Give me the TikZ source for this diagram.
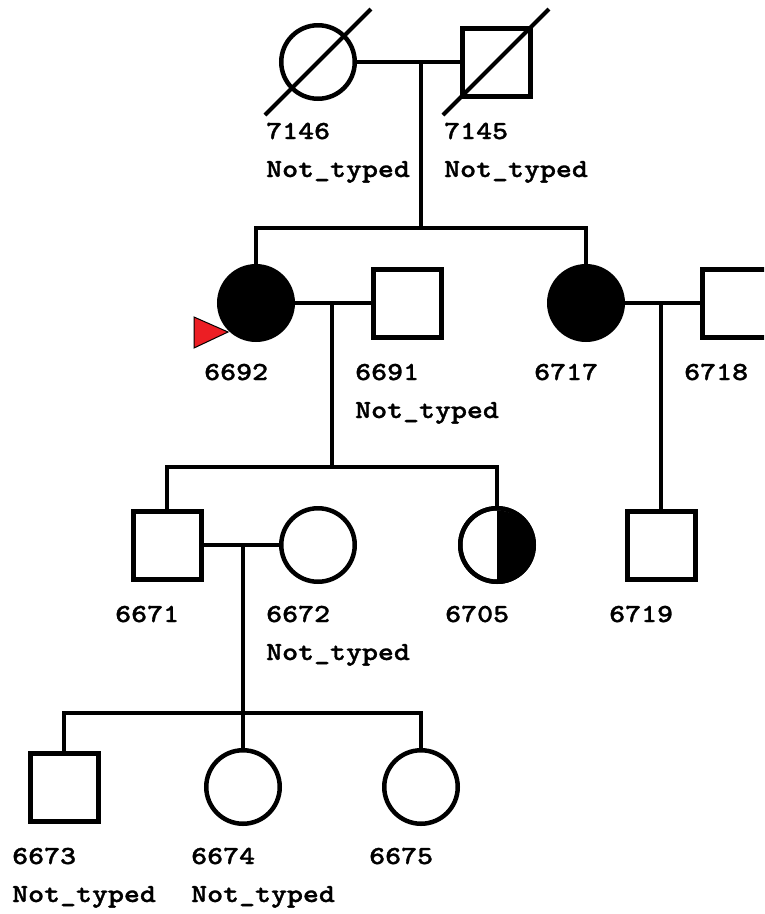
\documentclass[tikz,border=0pt]{standalone}
\usepackage{fontspec}
\newfontfamily\pedfont{lmmonolt10-bold.otf}[FakeStretch=1.17, FakeBold=1.2]
\usetikzlibrary{calc}
\definecolor{proband}{RGB}{236,30,36}

\tikzset{
  person/.style={draw, inner sep=0pt},
  male/.style={person, rectangle, line width=5pt, minimum size=68pt},
  female/.style={person, circle, line width=4.5pt, minimum size=73.5pt},
  affected/.style={fill=black},
  pid/.style={anchor=base west, inner sep=0pt,
              font=\fontsize{26}{30}\selectfont\pedfont},
  link/.style={line width=4pt},
}

\begin{document}
\begin{tikzpicture}[x=1pt, y=-1pt]
  \useasboundingbox (0,0) rectangle (764,914);
  \clip (0,0) rectangle (764,914);

  % generation I
  \node[female] (p7146) at (318,62) {};
  \node[male]   (p7145) at (496,62) {};
  \draw[link] ($(p7146.center)+(-53,53)$) -- ($(p7146.center)+(53,-53)$);
  \draw[link] ($(p7145.center)+(-53,53)$) -- ($(p7145.center)+(53,-53)$);

  % generation II
  \filldraw[fill=proband, draw=black, line width=1pt]
    (194,317) -- (194,348) -- (228,332) -- cycle;
  \node[female, affected] (p6692) at (256,303) {};
  \node[male]             (p6691) at (407,303) {};
  \node[female, affected] (p6717) at (586,303) {};
  \node[male]             (p6718) at (736,303) {};

  % generation III
  \node[male]   (p6671) at (167,545) {};
  \node[female] (p6672) at (318,545) {};
  \node[female] (p6705) at (497,545) {};
  \fill (p6705.south) arc[start angle=-90, end angle=90, radius=36.75pt] -- cycle;
  \node[female] at (p6705) {};
  \node[male]   (p6719) at (661,545) {};

  % generation IV
  \node[male]   (p6673) at (64,787) {};
  \node[female] (p6674) at (243,787) {};
  \node[female] (p6675) at (421,787) {};

  % marriages and sibships
  \coordinate (m1) at (421,62);  \coordinate (s1) at (421,228);
  \coordinate (m2) at (332,303); \coordinate (s2) at (332,467);
  \coordinate (m3) at (661,303);
  \coordinate (m4) at (243,545); \coordinate (s4) at (243,713);

  \draw[link] (p7146.east) -- (p7145.west);
  \draw[link] (m1) -- (s1);
  \draw[link] (p6692.north) |- (s1) -| (p6717.north);

  \draw[link] (p6692.east) -- (p6691.west);
  \draw[link] (m2) -- (s2);
  \draw[link] (p6671.north) |- (s2) -| (p6705.north);

  \draw[link] (p6717.east) -- (p6718.west);
  \draw[link] (m3) -- (p6719.north);

  \draw[link] (p6671.east) -- (p6672.west);
  \draw[link] (m4) -- (s4);
  \draw[link] (p6673.north) |- (s4) -| (p6675.north);
  \draw[link] (s4) -- (p6674.north);

  % labels
  \foreach \p in {7146,7145,6692,6691,6717,6718,6671,6672,6705,6719,6673,6674,6675}
    \node[pid] (l\p) at ($(p\p.center)+(-52,77)$) {\p};
  \foreach \p in {7146,7145,6691,6672,6673,6674}
    \node[pid] (n\p) at ($(p\p.center)+(-52,115)$) {Not\_typed};
\end{tikzpicture}
\end{document}
